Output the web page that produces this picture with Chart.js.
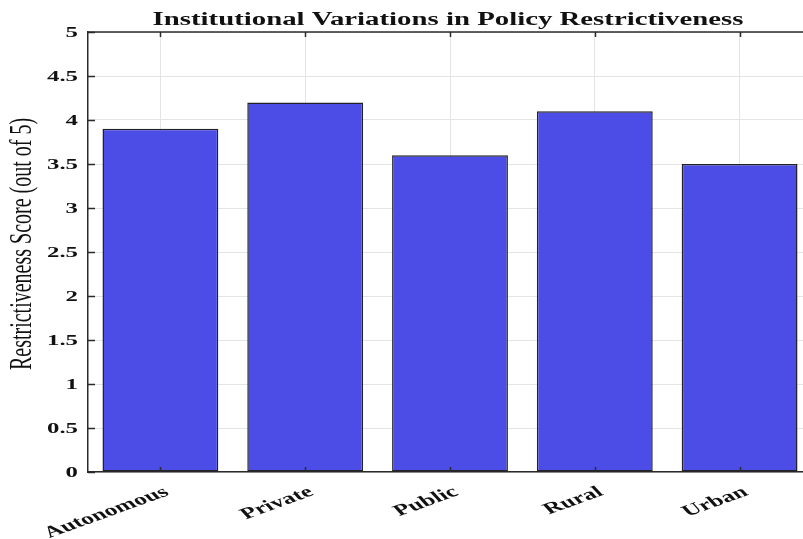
<!DOCTYPE html>
<html>
<head>
<meta charset="utf-8">
<script src="https://cdn.jsdelivr.net/npm/chart.js@4"></script>
<style>
  html, body { margin: 0; padding: 0; background: #fff; overflow: hidden; }
  #myChart { display: block; }
</style>
</head>
<body>
<canvas id="myChart" width="812" height="539"></canvas>
<script>
const institutions = ['Autonomous', 'Private', 'Public', 'Rural', 'Urban'];
const scores = [3.9, 4.2, 3.6, 4.1, 3.5];
const yTicks = [0, 0.5, 1, 1.5, 2, 2.5, 3, 3.5, 4, 4.5, 5];
const yTickLabels = ['0', '0.5', '1', '1.5', '2', '2.5', '3', '3.5', '4', '4.5', '5'];
const chartTitle = 'Institutional Variations in Policy Restrictiveness';
const yTitle = 'Restrictiveness Score (out of 5)';

// the reference looks horizontally stretched, so text gets stretched too
const SX = 1.6;
const axisColor = '#2b2b2b';

function stretchedText(ctx, text, x, y, font, align, baseline, angle) {
    ctx.save();
    ctx.translate(x, y);
    ctx.scale(SX, 1);
    ctx.rotate(angle || 0);
    ctx.font = font;
    ctx.fillStyle = '#111';
    ctx.textAlign = align;
    ctx.textBaseline = baseline;
    ctx.fillText(text, 0, 0);
    ctx.restore();
}

const matlabLook = {
    id: 'matlabLook',
    afterDraw(chart) {
        const ctx = chart.ctx;
        const area = chart.chartArea;
        const xs = chart.scales.x;
        const ys = chart.scales.y;

        ctx.save();
        ctx.strokeStyle = axisColor;
        ctx.lineWidth = 1.5;
        // box: top line
        ctx.beginPath();
        ctx.moveTo(area.left, area.top);
        ctx.lineTo(area.right + 2, area.top);
        ctx.stroke();

        // inward ticks
        ctx.beginPath();
        xs.ticks.forEach((t, i) => {
            const px = Math.round(xs.getPixelForTick(i)) + 0.5;
            ctx.moveTo(px, area.bottom);
            ctx.lineTo(px, area.bottom - 5);
            ctx.moveTo(px, area.top);
            ctx.lineTo(px, area.top + 5);
        });
        yTicks.forEach((v) => {
            const py = Math.round(ys.getPixelForValue(v)) + 0.5;
            ctx.moveTo(area.left, py);
            ctx.lineTo(area.left + 7, py);
        });
        ctx.stroke();
        ctx.restore();

        // y tick labels
        yTicks.forEach((v, i) => {
            stretchedText(ctx, yTickLabels[i], 78, ys.getPixelForValue(v) + 1,
                'bold 15.5px "Liberation Serif"', 'right', 'middle', 0);
        });

        // x tick labels, rotated
        institutions.forEach((lab, i) => {
            const px = xs.getPixelForTick(i);
            stretchedText(ctx, lab, px, area.bottom + 12,
                'bold 16px "Liberation Serif"', 'right', 'top', -Math.PI / 6);
        });

        // title
        stretchedText(ctx, chartTitle, (area.left + area.right) / 2 - 2, 25,
            'bold 18px "Liberation Serif"', 'center', 'alphabetic', 0);

        // y axis title
        stretchedText(ctx, yTitle, 23, 244,
            '20px "Liberation Serif"', 'center', 'middle', -Math.PI / 2);
    }
};

const ctx = document.getElementById('myChart');

new Chart(ctx, {
    type: 'bar',
    data: {
        labels: institutions,
        datasets: [{
            label: 'Restrictiveness Score',
            data: scores,
            backgroundColor: '#4b4de6',
            borderColor: '#222228',
            borderWidth: 1.5,
            borderSkipped: false,
            barPercentage: 0.8,
            categoryPercentage: 1.0
        }]
    },
    options: {
        responsive: false,
        animation: false,
        layout: {
            padding: { left: 88, top: 32, right: 0, bottom: 67 }
        },
        plugins: {
            legend: { display: false },
            title: { display: false },
            tooltip: { enabled: false }
        },
        scales: {
            x: {
                grid: {
                    color: '#e4e4e4',
                    lineWidth: 1,
                    drawTicks: false,
                    offset: false
                },
                border: { color: axisColor, width: 1.5 },
                ticks: { display: false }
            },
            y: {
                min: 0,
                max: 5,
                afterBuildTicks(scale) {
                    scale.ticks = yTicks.map((v) => ({ value: v }));
                },
                grid: {
                    color: '#e4e4e4',
                    lineWidth: 1,
                    drawTicks: false
                },
                border: { color: axisColor, width: 1.5 },
                ticks: { display: false }
            }
        }
    },
    plugins: [matlabLook]
});
</script>
</body>
</html>
